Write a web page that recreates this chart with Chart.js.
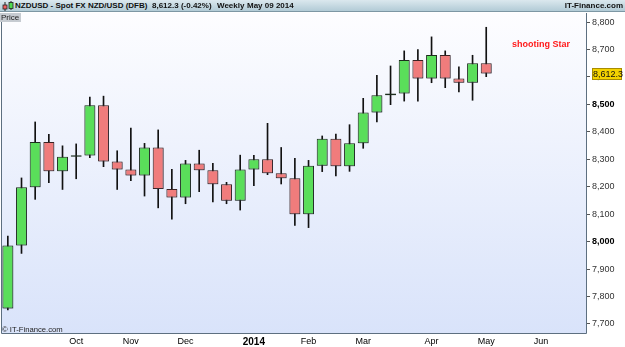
<!DOCTYPE html>
<html><head><meta charset="utf-8">
<script src="https://cdn.jsdelivr.net/npm/chart.js@4.4.1/dist/chart.umd.min.js"></script>
<style>
body{margin:0;background:#fff;}
#wrap{position:relative;width:625px;height:347px;overflow:hidden;font-family:"Liberation Sans",Arial,sans-serif;}
#c{position:absolute;left:0;top:0;}
#hdr{position:absolute;left:0;top:0;width:625px;height:12px;background:linear-gradient(#dbe8ee,#b2cbd6);border-bottom:1px solid #7d97a4;box-sizing:border-box;}
.ht{position:absolute;top:0px;font-weight:bold;font-size:8px;line-height:12px;color:#111;white-space:nowrap;}
#price{position:absolute;left:0;top:13px;height:9px;padding:0 2px 0 1px;background:#c6cbd1;font-size:8px;line-height:9px;color:#222;}
#copy{position:absolute;left:2px;top:325px;font-size:7.7px;color:#222;white-space:nowrap;}
#star{position:absolute;left:512px;top:39px;font-size:9px;font-weight:bold;color:#ff1a1a;white-space:nowrap;}
#icon{position:absolute;left:2px;top:1px;width:12px;height:10px;}
</style></head>
<body>
<div id="wrap">
<canvas id="c" width="625" height="347"></canvas>
<div id="hdr">
<svg id="icon" width="12" height="10"><line x1="3" y1="1" x2="3" y2="10" stroke="#222"/><rect x="1" y="4" width="4" height="4" fill="#f06060" stroke="#222" stroke-width="0.8"/><line x1="9" y1="0" x2="9" y2="9" stroke="#222"/><rect x="7" y="1.5" width="4" height="6" fill="#50d850" stroke="#222" stroke-width="0.8"/></svg>
<span class="ht" style="left:15px">NZDUSD - Spot FX NZD/USD (DFB)</span>
<span class="ht" style="left:152px">8,612.3 (-0.42%)</span>
<span class="ht" style="left:217px">Weekly</span>
<span class="ht" style="left:247px">May 09 2014</span>
<span class="ht" style="right:2px">IT-Finance.com</span>
</div>
<div id="price">Price</div>
<div id="copy">© IT-Finance.com</div>
<div id="star">shooting Star</div>
</div>
<script>
// Weekly categories (Monday of each week); last 7 are empty future weeks on the axis
const weeks = ['2013-09-02','2013-09-09','2013-09-16','2013-09-23','2013-09-30',
 '2013-10-07','2013-10-14','2013-10-21','2013-10-28',
 '2013-11-04','2013-11-11','2013-11-18','2013-11-25',
 '2013-12-02','2013-12-09','2013-12-16','2013-12-23','2013-12-30',
 '2014-01-06','2014-01-13','2014-01-20','2014-01-27',
 '2014-02-03','2014-02-10','2014-02-17','2014-02-24',
 '2014-03-03','2014-03-10','2014-03-17','2014-03-24','2014-03-31',
 '2014-04-07','2014-04-14','2014-04-21','2014-04-28',
 '2014-05-05','2014-05-12','2014-05-19','2014-05-26',
 '2014-06-02','2014-06-09','2014-06-16','2014-06-23'];
const opens  = [7756,7986,8198,8363,8256,8309,8314,8497,8292,8263,8241,8343,8192,8161,8285,8260,8209,8149,8263,8300,8249,8231,8100,8276,8375,8275,8358,8470,8533,8540,8662,8594,8680,8594,8579,8650];
const highs  = [8020,8232,8436,8391,8349,8356,8527,8530,8331,8414,8358,8407,8263,8296,8333,8285,8216,8315,8314,8431,8343,8303,8296,8385,8392,8426,8522,8606,8640,8695,8700,8746,8695,8637,8679,8781];
const lows   = [7751,7957,8154,8215,8190,8229,8306,8273,8190,8222,8166,8123,8082,8138,8182,8145,8138,8115,8204,8244,8210,8059,8051,8255,8239,8256,8340,8436,8499,8512,8512,8579,8561,8545,8515,8601];
const closes = [7986,8198,8363,8256,8309,8314,8497,8292,8263,8241,8343,8192,8161,8285,8260,8209,8149,8263,8300,8249,8231,8100,8276,8375,8275,8358,8470,8533,8540,8662,8594,8680,8594,8579,8650,8612.3];
const monthTickLabels = ['Oct','Nov','Dec','2014','Feb','Mar','Apr','May','Jun'];
const monthTickWeeks  = ['2013-10-07','2013-11-04','2013-12-02','2014-01-06','2014-02-03','2014-03-03','2014-04-07','2014-05-05','2014-06-02'];
const priceTicks = [7700,7800,7900,8000,8100,8200,8300,8400,8500,8600,8700,8800];
const boldPriceTicks = [8000,8500];

const wickData = lows.map((l,i)=>({x:i, y:[l, highs[i]]}));
const bodyData = opens.map((o,i)=>({x:i, y:[o, closes[i]]}));
const bodyColors = opens.map((o,i)=> closes[i] >= o ? '#5ade5a' : '#f07c7c');
const bodyBorders = opens.map((o,i)=> closes[i] >= o ? '#1d2e1d' : '#3a2323');
const tickIdx = monthTickWeeks.map(w=>weeks.indexOf(w));

const fmt = v => Number(v).toLocaleString('en-US');
const isBold = c => !!(c && c.tick && boldPriceTicks.includes(c.tick.value));
const FAM = '"Liberation Sans", Arial, sans-serif';

const framePlugin = {
  id:'frame',
  beforeDraw(chart){
    const {ctx, chartArea:a} = chart;
    const g = ctx.createLinearGradient(0,a.top,0,a.bottom);
    g.addColorStop(0,'#fdfdff');
    g.addColorStop(1,'#d9e3fa');
    ctx.save(); ctx.fillStyle=g; ctx.fillRect(a.left,a.top,a.right-a.left,a.bottom-a.top); ctx.restore();
  },
  beforeDatasetDraw(chart, args){
    if (args.index === 0) {
      chart.ctx.save();
      chart.ctx.shadowColor = 'rgba(60,60,80,0.45)';
      chart.ctx.shadowBlur = 2;
      chart.ctx.shadowOffsetX = 1;
      chart.ctx.shadowOffsetY = 1;
    }
  },
  afterDatasetDraw(chart, args){
    if (args.index === 0) chart.ctx.restore();
  },
  afterDraw(chart){
    const {ctx, chartArea:a} = chart;
    ctx.save();
    ctx.strokeStyle='#5d6f80'; ctx.lineWidth=1;
    ctx.beginPath();
    ctx.moveTo(a.left+0.5,a.top); ctx.lineTo(a.left+0.5,a.bottom+0.5);
    ctx.lineTo(a.right+0.5,a.bottom+0.5); ctx.lineTo(a.right+0.5,a.top);
    ctx.stroke();
    const ys = chart.scales.y;
    const last = closes[closes.length-1];
    const py = Math.round(ys.getPixelForValue(last));
    ctx.fillStyle='#f4d300'; ctx.strokeStyle='#a88c00';
    ctx.fillRect(592,py-6,30,12); ctx.strokeRect(592.5,py-5.5,29,11);
    ctx.fillStyle='#111'; ctx.font='9px ' + FAM;
    ctx.textBaseline='middle'; ctx.textAlign='left';
    ctx.fillText(fmt(last), 593, py+0.5);
    ctx.restore();
  }
};

new Chart(document.getElementById('c'), {
  type:'bar',
  data:{ datasets:[
    {label:'body', data:bodyData, backgroundColor:bodyColors, borderColor:bodyBorders, borderWidth:1, borderSkipped:false,
     barPercentage:0.8, categoryPercentage:1, grouped:false, order:0, minBarLength:1.5},
    {label:'wick', data:wickData, backgroundColor:'#111', barThickness:1, grouped:false, order:1}
  ]},
  options:{
    responsive:false, animation:false, devicePixelRatio:1,
    layout:{padding:{top:13,left:1,right:0,bottom:0}},
    plugins:{legend:{display:false}, tooltip:{enabled:false}},
    scales:{
      x:{type:'linear', min:-0.5, max:42.3, offset:false,
         grid:{display:false, drawTicks:false, tickLength:0, offset:false}, border:{display:false},
         afterBuildTicks(s){ s.ticks = tickIdx.map(v=>({value:v})); },
         afterFit(s){ s.height = 14; },
         ticks:{autoSkip:false, maxRotation:0, padding:3, color:'#000',
           callback:(v)=>{ const k = tickIdx.indexOf(v); return k>=0 ? monthTickLabels[k] : ''; },
           font:(c)=>{ const b = !!(c && c.tick && c.tick.label==='2014'); return {family:FAM, size: b ? 10 : 9, weight: b ? 'bold' : 'normal'}; }}
      },
      y:{position:'right', min:7667, max:8833, beginAtZero:false,
         afterBuildTicks(s){ s.ticks = priceTicks.map(v=>({value:v})); },
         afterFit(s){ s.width = 39; },
         grid:{drawOnChartArea:false, drawTicks:true, tickLength:4, color:'#555'},
         border:{display:false},
         ticks:{padding:2, callback:(v)=>fmt(v),
           color:(c)=> isBold(c) ? '#000' : '#333',
           font:(c)=>({family:FAM, size:9, weight: isBold(c) ? 'bold' : 'normal'})}
      }
    }
  },
  plugins:[framePlugin]
});
</script>
</body></html>
